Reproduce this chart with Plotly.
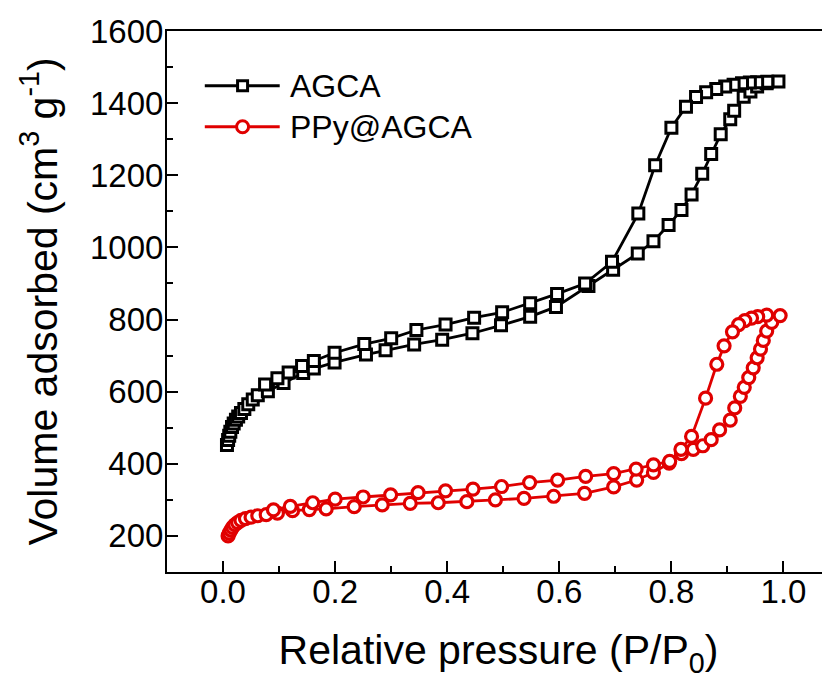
import plotly.graph_objects as go

# ---- data ----
agca_ads_x = [0.007, 0.009, 0.011, 0.013, 0.016, 0.019, 0.023, 0.027, 0.032, 0.038,
              0.045, 0.053, 0.062, 0.080, 0.108, 0.143, 0.162, 0.199, 0.255, 0.290,
              0.341, 0.391, 0.445, 0.496, 0.548, 0.594, 0.652, 0.696, 0.740, 0.768,
              0.795, 0.818, 0.836, 0.855, 0.871, 0.888, 0.905, 0.912, 0.929, 0.941,
              0.953, 0.970, 0.991]
agca_ads_y = [452, 466, 478, 489, 502, 512, 522, 531, 541, 552,
              565, 578, 590, 601, 624, 652, 664, 681, 703, 715,
              731, 744, 762, 784, 808, 835, 893, 938, 983, 1017,
              1062, 1104, 1147, 1204, 1259, 1314, 1355, 1379, 1418, 1432,
              1446, 1455, 1460]
agca_des_x = [0.971, 0.953, 0.940, 0.926, 0.911, 0.896, 0.880, 0.862, 0.844, 0.826,
              0.800, 0.771, 0.741, 0.694, 0.646, 0.596, 0.548, 0.498, 0.448, 0.397,
              0.345, 0.300, 0.252, 0.199, 0.162, 0.141, 0.117, 0.097, 0.075]
agca_des_y = [1459, 1458, 1457, 1455, 1451, 1446, 1439, 1430, 1417, 1390,
              1332, 1228, 1094, 960, 900, 871, 845, 820, 805, 786,
              771, 748, 732, 708, 685, 671, 653, 637, 620]

ppy_ads_x = [0.009, 0.011, 0.014, 0.017, 0.021, 0.026, 0.032, 0.040, 0.050, 0.062,
             0.077, 0.097, 0.124, 0.154, 0.184, 0.234, 0.284, 0.334, 0.384, 0.435,
             0.486, 0.537, 0.590, 0.645, 0.697, 0.738, 0.768, 0.796, 0.818, 0.839,
             0.856, 0.871, 0.886, 0.905, 0.913, 0.923, 0.930, 0.938, 0.946, 0.953,
             0.959, 0.964, 0.970, 0.979, 0.994]
ppy_ads_y = [200, 208, 216, 224, 231, 237, 243, 248, 252, 256,
             259, 263, 270, 273, 275, 281, 286, 290, 292, 295,
             300, 304, 310, 318, 336, 355, 376, 402, 428, 440,
             450, 467, 494, 521, 555, 587, 612, 639, 666, 694,
             718, 742, 768, 792, 811]
ppy_des_x = [0.970, 0.954, 0.943, 0.931, 0.920, 0.909, 0.894, 0.881, 0.861, 0.836,
             0.817, 0.797, 0.768, 0.737, 0.697, 0.647, 0.597, 0.547, 0.497, 0.446,
             0.397, 0.348, 0.299, 0.250, 0.200, 0.160, 0.120, 0.090]
ppy_des_y = [812, 808, 804, 797, 786, 766, 727, 676, 582, 476,
             440, 407, 397, 385, 373, 365, 355, 348, 337, 330,
             325, 320, 314, 308, 302, 292, 282, 272]

series_names = ["AGCA", "PPy@AGCA"]
x_tick_vals = [0.0, 0.2, 0.4, 0.6, 0.8, 1.0]
y_tick_vals = [200, 400, 600, 800, 1000, 1200, 1400, 1600]

BLACK = "#000000"
RED = "#e00000"
FONT = "Liberation Sans, Arial, sans-serif"

fig = go.Figure()
fig.add_trace(go.Scatter(
    x=agca_ads_x + agca_des_x, y=agca_ads_y + agca_des_y,
    mode="lines+markers", name=series_names[0], showlegend=False,
    line=dict(color=BLACK, width=2.8),
    marker=dict(symbol="square", size=11, color="white",
                line=dict(color=BLACK, width=3)),
))
fig.add_trace(go.Scatter(
    x=ppy_ads_x + ppy_des_x, y=ppy_ads_y + ppy_des_y,
    mode="lines+markers", name=series_names[1], showlegend=False,
    line=dict(color=RED, width=2.8),
    marker=dict(symbol="circle", size=12, color="white",
                line=dict(color=RED, width=3.2)),
))

# ---- hand-drawn legend (long line samples as in the reference) ----
legend_rows = [(0.899, BLACK, "square"), (0.823, RED, "circle")]
shapes = []
annotations = []
for (yy, col, sym), name in zip(legend_rows, series_names):
    shapes.append(dict(type="line", xref="paper", yref="paper",
                       x0=0.057, x1=0.170, y0=yy, y1=yy,
                       line=dict(color=col, width=3), layer="above"))
    half = 5 if sym == "square" else 6
    shapes.append(dict(type="rect" if sym == "square" else "circle",
                       xref="paper", yref="paper",
                       xsizemode="pixel", ysizemode="pixel",
                       xanchor=0.114, yanchor=yy,
                       x0=-half, x1=half, y0=-half, y1=half,
                       fillcolor="white", line=dict(color=col, width=3),
                       layer="above"))
    annotations.append(dict(xref="paper", yref="paper", x=0.183, y=yy,
                            xanchor="left", yanchor="middle", showarrow=False,
                            text=name, font=dict(family=FONT, size=32, color=BLACK)))

# the page body has an 8px margin, so the figure is 8px smaller and shifted
fig.update_layout(
    width=822, height=671,
    margin=dict(l=159, r=0, t=23, b=107, autoexpand=False),
    paper_bgcolor="white", plot_bgcolor="white",
    font=dict(family=FONT, color=BLACK),
    shapes=shapes, annotations=annotations,
    showlegend=False,
)
fig.update_xaxes(
    range=[-0.1, 1.083], automargin=False,
    showline=True, linecolor=BLACK, linewidth=2, mirror=True,
    showgrid=False, zeroline=False,
    ticks="inside", ticklen=11, tickwidth=2, tickcolor=BLACK,
    tickvals=x_tick_vals, ticktext=[f"{v:.1f}" for v in x_tick_vals],
    minor=dict(ticks="inside", ticklen=6, tickwidth=2, tickcolor=BLACK,
               tickvals=[0.1, 0.3, 0.5, 0.7, 0.9], showgrid=False),
    tickfont=dict(family=FONT, size=33, color=BLACK),
    ticklabelstandoff=-11,
    title=dict(text="Relative pressure (P/P<sub>0</sub>)",
               font=dict(family=FONT, size=41, color=BLACK), standoff=34),
)
fig.update_yaxes(
    range=[100, 1600], automargin=False,
    showline=True, linecolor=BLACK, linewidth=2, mirror=False,
    showgrid=False, zeroline=False,
    ticks="inside", ticklen=11, tickwidth=2, tickcolor=BLACK,
    tickvals=y_tick_vals, ticktext=[str(v) for v in y_tick_vals],
    minor=dict(ticks="inside", ticklen=6, tickwidth=2, tickcolor=BLACK,
               tickvals=[300, 500, 700, 900, 1100, 1300, 1500], showgrid=False),
    tickfont=dict(family=FONT, size=33, color=BLACK),
    ticklabelstandoff=-5,
    title=dict(text="Volume adsorbed (cm<sup>3</sup> g<sup>-1</sup>)",
               font=dict(family=FONT, size=41, color=BLACK), standoff=20),
)

fig.write_html("out.html")
